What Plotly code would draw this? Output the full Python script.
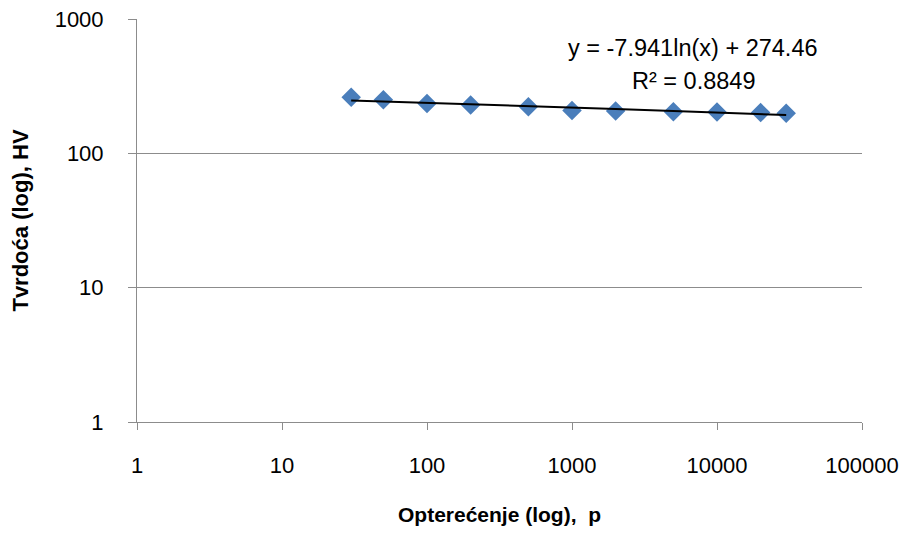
import numpy as np
import plotly.graph_objects as go

# opterećenje (p) i tvrdoća (HV)
load_p = [30, 50, 100, 200, 500, 1000, 2000, 5000, 10000, 20000, 30000]
hardness_hv = [262, 251, 235, 229, 222, 208, 207, 204, 203, 201, 199]

# logaritamski trend iz Excela
trend_slope = -7.941
trend_intercept = 274.46
trend_r2 = 0.8849

x_ticks = [1, 10, 100, 1000, 10000, 100000]
x_ticktext = ["1", "10", "100", "1000", "10000", "100000"]
y_ticks = [1, 10, 100, 1000]
y_ticktext = ["1", "10", "100", "1000"]

font_family = "Liberation Sans, Arial, sans-serif"
grid_color = "#8c8c8c"

fig = go.Figure()

fig.add_trace(go.Scatter(
    x=load_p,
    y=hardness_hv,
    mode="markers",
    marker=dict(symbol="diamond", size=15, color="#4a7ebb"),
    showlegend=False
))

# trend linija
x_line = np.array(load_p, dtype=float)
y_line = trend_slope * np.log(x_line) + trend_intercept
fig.add_trace(go.Scatter(
    x=x_line,
    y=y_line,
    mode="lines",
    line=dict(color="black", width=2),
    showlegend=False
))

# jednadžba trenda i R², dva retka
eq_lines = [f"y = {trend_slope}ln(x) + {trend_intercept}", f"R² = {trend_r2}"]
eq_y = [0.928, 0.846]
for txt, yy in zip(eq_lines, eq_y):
    fig.add_annotation(
        text=txt,
        xref="paper", yref="paper",
        x=0.767, y=yy,
        xanchor="center", yanchor="middle",
        showarrow=False,
        font=dict(family=font_family, size=23.5, color="black")
    )

# stranica ima 8px margine tijela, pa je figura malo manja
fig.update_layout(
    width=901,
    height=525,
    margin=dict(l=129, r=47, t=11, b=111),
    paper_bgcolor="white",
    plot_bgcolor="white",
    font=dict(family=font_family, size=22, color="black"),
    xaxis=dict(
        type="log",
        range=[0, 5],
        tickvals=x_ticks,
        ticktext=x_ticktext,
        showgrid=False,
        showline=True,
        linecolor=grid_color,
        linewidth=1,
        ticks="outside",
        ticklen=7,
        tickcolor=grid_color,
        ticklabelstandoff=17,
        ticklabeloverflow="allow",
        zeroline=False,
        automargin=False,
        title=dict(
            text="<b>Opterećenje (log),  p</b>",
            font=dict(family=font_family, size=21),
            standoff=29
        )
    ),
    yaxis=dict(
        type="log",
        range=[0, 3.0001],
        tickvals=y_ticks,
        ticktext=y_ticktext,
        showgrid=True,
        gridcolor=grid_color,
        gridwidth=1,
        showline=True,
        linecolor=grid_color,
        linewidth=1,
        ticks="outside",
        ticklen=8,
        tickcolor=grid_color,
        ticklabelstandoff=20,
        ticklabeloverflow="allow",
        zeroline=False,
        automargin=False,
        title=dict(
            text="<b>Tvrdoća (log), HV</b>",
            font=dict(family=font_family, size=22),
            standoff=30
        )
    )
)

fig.write_html("out.html")
